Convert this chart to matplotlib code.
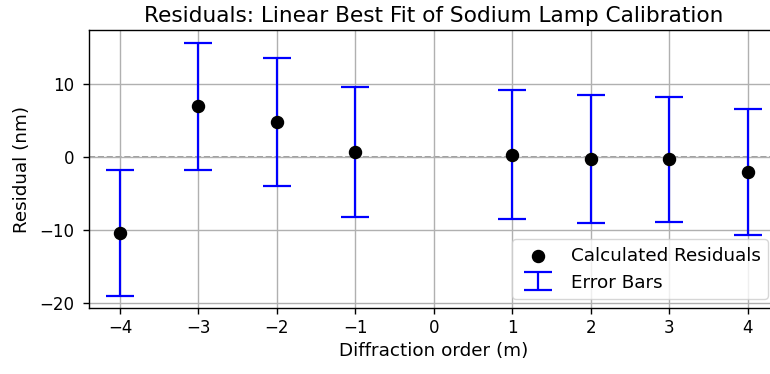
import matplotlib
matplotlib.use("Agg")
import matplotlib.pyplot as plt

orders = [-4, -3, -2, -1, 1, 2, 3, 4]
residuals = [-10.4, 6.95, 4.75, 0.65, 0.3, -0.35, -0.35, -2.05]
errors = [8.6, 8.7, 8.8, 8.85, 8.8, 8.75, 8.6, 8.6]

plt.rcParams['axes.linewidth'] = 1.0
plt.rcParams['grid.linewidth'] = 1.0
plt.rcParams['xtick.major.width'] = 1.0
plt.rcParams['ytick.major.width'] = 1.0
plt.rcParams['xtick.major.size'] = 4.2
plt.rcParams['ytick.major.size'] = 4.2

fig = plt.figure(figsize=(7.7, 3.74), dpi=100)
ax = fig.add_axes([0.115, 0.176, 0.897, 0.744])

ax.errorbar(orders, residuals, yerr=errors, fmt='none', ecolor='blue',
            elinewidth=1.6, capsize=10, capthick=1.6, label='Error Bars', zorder=2)
ax.scatter(orders, residuals, color='black', s=75, label='Calculated Residuals', zorder=3)
ax.axhline(0, color='gray', linestyle='--', linewidth=1.2, alpha=0.9, zorder=1)

ax.set_xlim(-4.4, 4.4)
ax.set_xticks(range(-4, 5))
ax.set_yticks([-20, -10, 0, 10])
ax.grid(True)
ax.set_xlabel('Diffraction order (m)', fontsize=13.2)
ax.set_ylabel('Residual (nm)', fontsize=13.2, labelpad=6)
ax.set_title('Residuals: Linear Best Fit of Sodium Lamp Calibration', fontsize=15.6)
ax.tick_params(labelsize=12)
ax.tick_params(axis='y', pad=6)
ax.legend(loc='lower right', bbox_to_anchor=(0.997, 0.0), fontsize=13.2)

fig.savefig('out.png', dpi=100)
